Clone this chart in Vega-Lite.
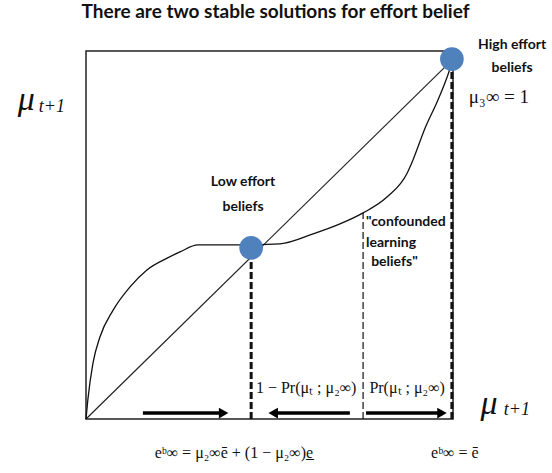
{
  "$schema": "https://vega.github.io/schema/vega-lite/v6.json",
  "autosize": "none",
  "width": 367,
  "height": 368,
  "padding": {"left": 86, "top": 51, "right": 99, "bottom": 54},
  "title": {"text": "There are two stable solutions for effort belief", "font": "Lato", "fontSize": 19, "fontWeight": "bold", "color": "#111", "anchor": "middle", "frame": "group", "offset": 16, "dx": 6},
  "config": {"view": {"stroke": "#222", "strokeWidth": 1.5}},
  "datasets": {
    "diag": [{"x": 0, "y": 0}, {"x": 1, "y": 0.978}],
    "curve": [
      {"x": 0, "y": 0}, {"x": 0.005, "y": 0.052}, {"x": 0.019, "y": 0.152}, {"x": 0.038, "y": 0.223},
      {"x": 0.074, "y": 0.296}, {"x": 0.12, "y": 0.359}, {"x": 0.166, "y": 0.405}, {"x": 0.221, "y": 0.437},
      {"x": 0.256, "y": 0.454}, {"x": 0.305, "y": 0.473}, {"x": 0.42, "y": 0.473}, {"x": 0.529, "y": 0.476},
      {"x": 0.619, "y": 0.503}, {"x": 0.692, "y": 0.53}, {"x": 0.755, "y": 0.56}, {"x": 0.82, "y": 0.603},
      {"x": 0.875, "y": 0.668}, {"x": 0.891, "y": 0.704}, {"x": 0.924, "y": 0.791}, {"x": 0.959, "y": 0.867},
      {"x": 0.986, "y": 0.935}, {"x": 1, "y": 0.978}
    ],
    "thickDrop": [{"x": 0.45, "y": 0, "y2": 0.465}, {"x": 0.997, "y": 0, "y2": 0.978}],
    "thinDrop": [{"x": 0.755, "y": 0, "y2": 0.56}],
    "equilibria": [{"x": 0.45, "y": 0.465}, {"x": 0.997, "y": 0.978}],
    "arrows": [
      {"x": 0.155, "x2": 0.37, "y": 0.016, "head": 0.375, "dir": "right"},
      {"x": 0.719, "x2": 0.515, "y": 0.016, "head": 0.51, "dir": "left"},
      {"x": 0.763, "x2": 0.965, "y": 0.016, "head": 0.97, "dir": "right"}
    ],
    "labels": [
      {"x": 1.161, "y": 1.016, "t": "High effort"},
      {"x": 1.161, "y": 0.954, "t": "beliefs"},
      {"x": 0.428, "y": 0.644, "t": "Low effort"},
      {"x": 0.428, "y": 0.576, "t": "beliefs"}
    ],
    "leftLabels": [
      {"x": 0.763, "y": 0.535, "t": "\"confounded"},
      {"x": 0.763, "y": 0.478, "t": "learning"},
      {"x": 0.777, "y": 0.427, "t": "beliefs\""}
    ],
    "math": [
      {"x": 0.6, "y": 0.084, "t": "1 − Pr(μₜ ; μ₂∞)"},
      {"x": 0.875, "y": 0.084, "t": "Pr(μₜ ; μ₂∞)"},
      {"x": 0.403, "y": -0.092, "t": "eᵇ∞ = μ₂∞ē + (1 − μ₂∞)e̲"},
      {"x": 1.005, "y": -0.092, "t": "eᵇ∞ = ē"}
    ],
    "mathBig": [
      {"x": 1.125, "y": 0.875, "t": "μ₃∞ = 1"}
    ],
    "bigMu": [{"x": -0.163, "y": 0.867, "t": "μ"}, {"x": 1.098, "y": 0.041, "t": "μ"}],
    "sub": [{"x": -0.093, "y": 0.848, "t": "t+1"}, {"x": 1.174, "y": 0.024, "t": "t+1"}]
  },
  "encoding": {
    "x": {"field": "x", "type": "quantitative", "scale": {"domain": [0, 1], "nice": false, "zero": false}, "axis": null},
    "y": {"field": "y", "type": "quantitative", "scale": {"domain": [0, 1], "nice": false, "zero": false}, "axis": null}
  },
  "layer": [
    {"data": {"name": "diag"}, "mark": {"type": "line", "color": "#222", "strokeWidth": 1.2}},
    {"data": {"name": "curve"}, "mark": {"type": "line", "color": "#111", "strokeWidth": 1.3, "interpolate": "monotone"}},
    {"data": {"name": "thickDrop"}, "mark": {"type": "rule", "color": "#111", "strokeWidth": 3, "strokeDash": [7, 3]}, "encoding": {"y2": {"field": "y2"}}},
    {"data": {"name": "thinDrop"}, "mark": {"type": "rule", "color": "#111", "strokeWidth": 1.2, "strokeDash": [7, 3]}, "encoding": {"y2": {"field": "y2"}}},
    {"data": {"name": "arrows"}, "mark": {"type": "rule", "color": "#000", "strokeWidth": 3.5}, "encoding": {"x2": {"field": "x2"}}},
    {"data": {"name": "arrows"}, "mark": {"type": "point", "filled": true, "color": "#000", "opacity": 1, "size": 120},
      "encoding": {"x": {"field": "head", "type": "quantitative"},
        "shape": {"field": "dir", "type": "nominal", "scale": {"domain": ["right", "left"], "range": ["triangle-right", "triangle-left"]}, "legend": null}}},
    {"data": {"name": "equilibria"}, "mark": {"type": "point", "filled": true, "color": "#4F81BD", "opacity": 1, "size": 560}},
    {"data": {"name": "labels"}, "mark": {"type": "text", "font": "Lato", "fontSize": 14, "fontWeight": "bold", "color": "#111", "align": "center", "baseline": "middle"}, "encoding": {"text": {"field": "t"}}},
    {"data": {"name": "leftLabels"}, "mark": {"type": "text", "font": "Lato", "fontSize": 14, "fontWeight": "bold", "color": "#111", "align": "left", "baseline": "middle"}, "encoding": {"text": {"field": "t"}}},
    {"data": {"name": "math"}, "mark": {"type": "text", "font": "Liberation Serif", "fontSize": 16, "color": "#111", "align": "center", "baseline": "middle"}, "encoding": {"text": {"field": "t"}}},
    {"data": {"name": "mathBig"}, "mark": {"type": "text", "font": "Liberation Serif", "fontSize": 19, "color": "#111", "align": "center", "baseline": "middle"}, "encoding": {"text": {"field": "t"}}},
    {"data": {"name": "bigMu"}, "mark": {"type": "text", "font": "Liberation Serif", "fontSize": 34, "fontStyle": "italic", "color": "#111", "align": "center", "baseline": "middle"}, "encoding": {"text": {"field": "t"}}},
    {"data": {"name": "sub"}, "mark": {"type": "text", "font": "Liberation Serif", "fontSize": 18, "fontStyle": "italic", "color": "#111", "align": "center", "baseline": "middle"}, "encoding": {"text": {"field": "t"}}}
  ]
}
